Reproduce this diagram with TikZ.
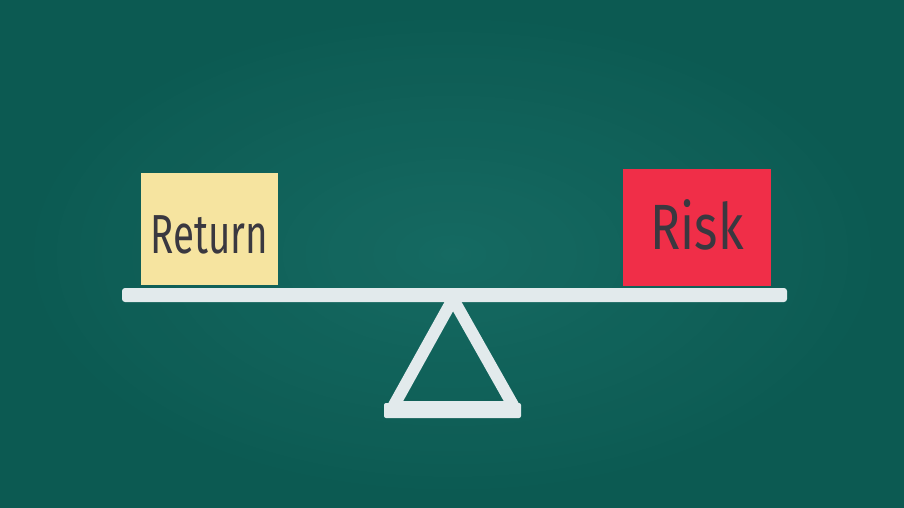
\documentclass[tikz,border=0pt]{standalone}
\usepackage{fontspec}
\setsansfont{Fira Sans}
\definecolor{board}{RGB}{12,90,82}
\definecolor{boardlight}{RGB}{24,110,102}
\definecolor{chalk}{RGB}{226,234,236}
\definecolor{cardyellow}{RGB}{246,228,160}
\definecolor{cardred}{RGB}{240,46,72}
\definecolor{ink}{RGB}{58,56,64}
\begin{document}
\begin{tikzpicture}[
        x=1pt,
        y=-1pt
    ]
    \tikzset{
        mycarda/.style = {rectangle, inner sep=0pt, fill=cardyellow, text=ink,
                          minimum width=137pt, minimum height=112pt,
                          font=\sffamily\fontsize{55}{60}\selectfont},
        mycardb/.style = {rectangle, inner sep=0pt, fill=cardred, text=ink,
                          minimum width=148pt, minimum height=117pt,
                          font=\sffamily\fontsize{64}{70}\selectfont},
        mychalk/.style = {chalk, line width=12pt, line join=round, line cap=round},
    }
        % board
        \useasboundingbox (0,0) rectangle (904,508);
        \fill[board] (0,0) rectangle (904,508);
        \shade[inner color=boardlight, outer color=board, opacity=0.8]
            (0,0) rectangle (904,508);
        %
        \node[mycarda] at (209.5,229) (ret)
            {\raisebox{-24pt}[0pt][0pt]{\scalebox{0.7}[1]{Return}}};
        \node[mycardb] at (697,227.5) (risk)
            {\raisebox{-22pt}[0pt][0pt]{\scalebox{0.78}[1]{Risk}}};
        %
        \fill[chalk, rounded corners=3pt] (122,288) rectangle (787,302);
        \draw[mychalk] (453,299) -- (393,407) -- (514,407) -- cycle;
        \fill[chalk, rounded corners=2pt] (384,403) rectangle (521,418);
    \end{tikzpicture}
\end{document}
